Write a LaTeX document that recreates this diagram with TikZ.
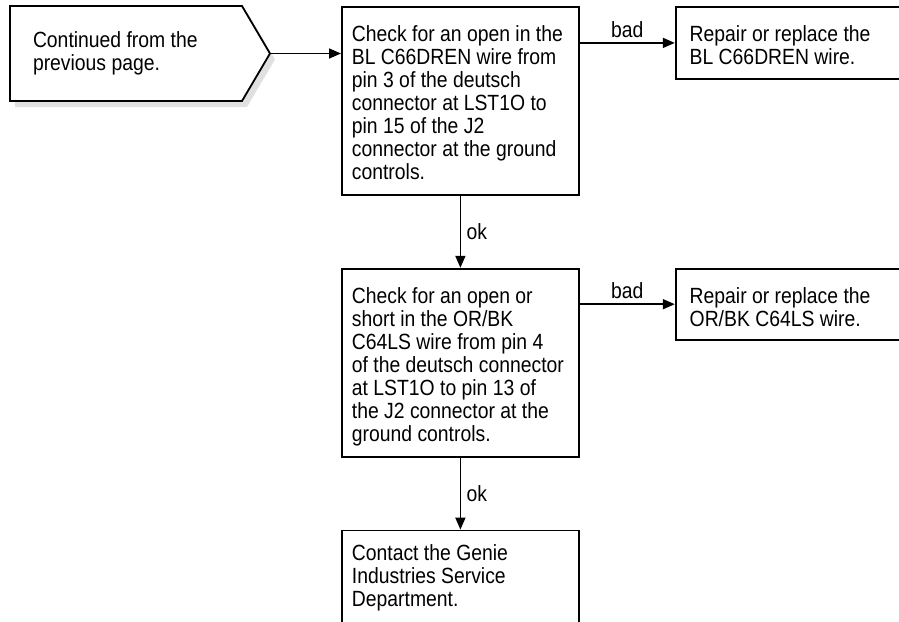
\documentclass[tikz,border=0pt]{standalone}
\usepackage{fontspec}
\setmainfont{Liberation Sans}[FakeStretch=0.88]
\usetikzlibrary{arrows.meta,shapes.symbols,shadows,positioning}
\tikzset{
    stepbox/.style={
        rectangle,
        draw,
        line width=1.8pt,
        fill=white,
        text width=217pt,
        align=left,
        execute at begin node={\spaceskip=0pt\xspaceskip=0pt},
        inner xsep=10pt,
        inner ysep=0pt,
        text height=35pt,
        anchor=north west
    },
    fixbox/.style={
        stepbox,
        text width=212pt,
        inner xsep=14pt
    },
    startbox/.style={
        signal,
        signal to=east,
        signal pointer angle=119,
        draw,
        line width=1.8pt,
        fill=white,
        drop shadow={shadow xshift=5pt,shadow yshift=-6pt,fill=black!12,opacity=1},
        text width=186pt,
        align=left,
        execute at begin node={\spaceskip=0pt\xspaceskip=0pt},
        inner xsep=23pt,
        minimum height=95pt
    },
    flow/.style={
        ->,
        line width=1.6pt
    }
}

\begin{document}
\begin{tikzpicture}[x=1pt,y=1pt,>={Triangle[length=12pt,width=10pt]},
    font=\fontsize{22}{23}\selectfont]
    \useasboundingbox (0,0) rectangle (899,-621);
    \node [startbox] (start) at (126,-53.5) {Continued from the\\previous page.};
    \node [stepbox,text depth=153pt] (check1) at (341,-6)
        {Check for an open in the\\BL C66DREN wire from\\pin 3 of the deutsch\\connector at LST1O to\\pin 15 of the J2\\connector at the ground\\controls.};
    \node [fixbox,text depth=37pt] (fix1) [right=95pt of check1.north east,anchor=north west]
        {Repair or replace the\\BL C66DREN wire.};
    \node [stepbox,text depth=153pt] (check2) [below=72pt of check1]
        {Check for an open or\\short in the OR/BK\\C64LS wire from pin 4\\of the deutsch connector\\at LST1O to pin 13 of\\the J2 connector at the\\ground controls.};
    \node [fixbox,text depth=36pt] (fix2) [right=95pt of check2.north east,anchor=north west]
        {Repair or replace the\\OR/BK C64LS wire.};
    \node [stepbox,text height=30pt,text depth=110pt] (contact) [below=72pt of check2]
        {Contact the Genie\\Industries Service\\Department.};

    % yes/no branches
    \draw [flow] (start.east) -- (start.east -| check1.west);
    \draw [flow] (check1.east |- fix1.west) -- node[above=1pt] {bad} (fix1.west);
    \draw [flow] (check1.south) -- node[right=2pt] {ok} (check2.north);
    \draw [flow] (check2.east |- fix2.west) -- node[above=1pt] {bad} (fix2.west);
    \draw [flow] (check2.south) -- node[right=2pt] {ok} (contact.north);
\end{tikzpicture}
\end{document}
